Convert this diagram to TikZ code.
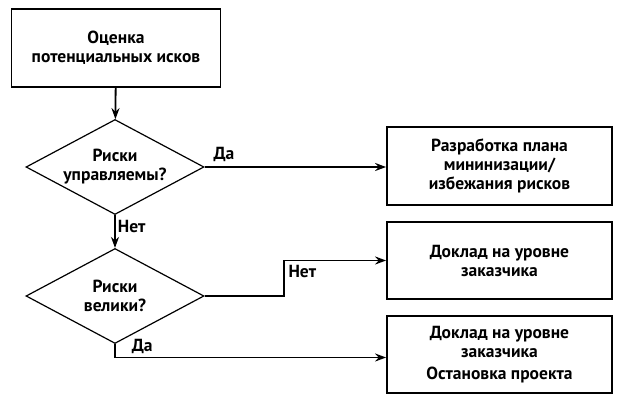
\documentclass[tikz,border=0pt]{standalone}
\usepackage{fontspec}
\setmainfont{PT Sans}
\usetikzlibrary{shapes.geometric,arrows.meta}
\begin{document}
\begin{tikzpicture}[x=1pt,y=-1pt,
      line width=1.8pt,
      >={Stealth[length=11pt,width=8pt]},
      every node/.style={font=\bfseries\fontsize{17.5}{19}\selectfont},
      B/.style={draw,rectangle,align=center,inner sep=2pt,minimum height=78pt},
      R/.style={B,minimum width=225pt},
      D/.style={draw,diamond,aspect=1.87,align=center,inner sep=0pt,minimum width=178pt,minimum height=95pt,line width=1.2pt},
      L/.style={inner sep=2pt}]
      \useasboundingbox (0,0) rectangle (622,402);
      \node[B,minimum width=209pt] (ocenka) at (116,48) {Оценка\\потенциальных исков};
      \node[D] (upr) at (115,167) {Риски\\управляемы?};
      \node[D] (vel) at (115,296) {Риски\\велики?};
      \node[R] (plan) at (499.5,166) {Разработка плана\\мининизации/\\избежания рисков};
      \node[R,minimum height=77pt] (dokl) at (499.5,260.5) {Доклад на уровне\\заказчика};
      \node[R,minimum height=77pt] (stop) at (499.5,354.5) {Доклад на уровне\\заказчика\\[3pt]Остановка проекта};
      \draw[->] (ocenka) -- (upr);
      \draw[->] (upr.east) -- node[L,pos=0,anchor=south west,xshift=6pt,yshift=2pt] {Да} (upr.east -| plan.west);
      \draw[->] (upr.south) -- node[L,pos=0.35,right] {Нет} (vel.north);
      \draw[->] (vel.east) -- ++(79,0) |- node[L,pos=0.5,anchor=north west,xshift=2pt,yshift=-2pt] {Нет} (dokl.west);
      \draw[->] (vel.south) |- node[L,pos=0.5,anchor=south west,xshift=14pt,yshift=1pt] {Да} ([yshift=-3pt]stop.west);
    \end{tikzpicture}
\end{document}
